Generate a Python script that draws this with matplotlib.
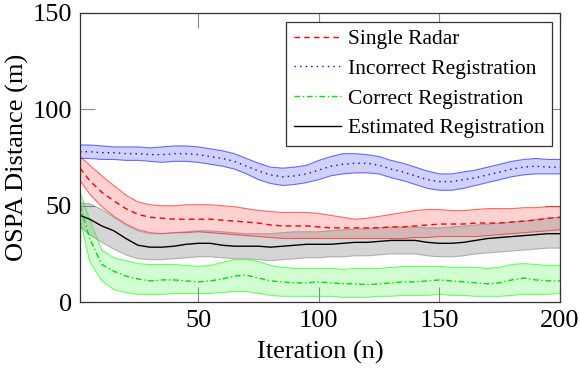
import numpy as np
import matplotlib
matplotlib.use("Agg")
import matplotlib.pyplot as plt

# -------------------------
# Datos
# -------------------------
iters = [1, 5, 10, 15, 20, 25, 30, 35, 40, 45, 50, 55, 60, 65, 70, 75, 80, 85, 90, 95, 100,
         105, 110, 115, 120, 125, 130, 135, 140, 145, 150, 155, 160, 165, 170, 175, 180,
         185, 190, 195, 200]

single_mean = [69.5, 63, 57, 52.5, 48.5, 45.5, 44, 43.5, 43, 43, 43, 43, 42.5, 42, 41.5, 41, 40,
               39.5, 39.5, 39.5, 39, 38.5, 38.5, 38.5, 38.5, 38.5, 39, 39, 39.5, 40, 40.5, 40.5,
               40.5, 41, 41, 41, 41.5, 42, 42.5, 43.5, 44]
single_up = [75.5, 71, 65.5, 60.5, 55.5, 52, 50.5, 50, 50, 50.5, 50.5, 50.5, 50, 49.5, 48.5, 47.5,
             47, 46.5, 46.5, 46.5, 46, 45, 44, 43, 43.5, 44.5, 45.5, 46.5, 47.5, 48, 48, 47.5,
             47.5, 48, 48.5, 48.5, 48.5, 49, 49, 49.5, 49.5]
single_lo = [63, 56, 49.5, 44.5, 40.5, 37.5, 36, 35.5, 36, 36, 36.5, 36, 35.5, 35, 34.5, 34, 33.5,
             33, 33, 33, 33, 33, 33, 33, 33, 33, 33, 33, 33.5, 33.5, 34, 34, 34, 34, 34.5, 35,
             35.5, 36, 36.5, 37, 37.5]

incorrect_mean = [78, 78, 77.5, 77.5, 77, 77, 76.5, 76.5, 77, 77, 76.5, 75.5, 74.5, 73, 70.5, 68,
                  66, 65, 65.5, 66.5, 68.5, 70.5, 71.5, 72, 72, 71, 69, 67.5, 65.5, 63.5, 62.5,
                  62.5, 63.5, 64.5, 66, 67.5, 69, 70, 70.5, 70, 70]
incorrect_up = [81.5, 81.5, 81, 80.5, 80.5, 80.5, 80, 80.5, 81, 81, 80.5, 79.5, 78.5, 77, 74.5, 72,
                70, 69.5, 70, 71, 73.5, 75.5, 77, 77, 76.5, 75.5, 73.5, 72, 70, 68, 66.5, 66.5,
                67.5, 68.5, 70, 71.5, 73, 74, 74.5, 74, 74]
incorrect_lo = [74.5, 74.5, 74, 74, 73.5, 73.5, 73, 72.5, 73, 73, 72.5, 71.5, 70.5, 69, 66.5, 63.5,
                61.5, 60.5, 61, 62, 63.5, 65.5, 66.5, 67, 67, 66.5, 64.5, 63, 61, 59, 58, 58, 59,
                60.5, 62, 63.5, 65, 66, 66.5, 66.5, 66.5]

correct_mean = [50, 33, 19.5, 16, 13.5, 12, 11, 11.5, 11.5, 11, 10.5, 11, 12, 13.5, 14, 12.5, 11,
                10.5, 10, 10, 10.5, 10, 9.5, 9.5, 9, 9.5, 10, 10.5, 10.5, 11, 11.5, 11, 10.5, 10,
                9.5, 10, 11.5, 12.5, 11.5, 11, 11]
correct_up = [57, 43, 27, 23, 21.5, 20, 19.5, 19.5, 19.5, 19, 18.5, 19, 20.5, 22, 22, 21, 19, 18,
              17.5, 17.5, 17.5, 17.5, 17, 17.5, 17.5, 17.5, 18, 18.5, 18.5, 18.5, 18.5, 18, 18,
              18, 17.5, 18, 19.5, 20, 19.5, 19, 19]
correct_lo = [43, 21, 11, 6.5, 5, 4, 4, 4, 4.5, 4.5, 4.5, 4.5, 5, 5.5, 5.5, 4.5, 3.5, 3, 3, 3, 3,
              3, 2.5, 2.5, 2.5, 3, 3, 3.5, 3.5, 3.5, 4, 3.5, 3.5, 3, 3, 3, 3.5, 4, 4, 4, 4.5]

estimated_mean = [45, 43, 39.5, 37, 33, 29.5, 28.5, 28.5, 29, 30, 30.5, 30.5, 29.5, 29, 29, 29,
                  28.5, 29, 29.5, 30, 30, 30, 30.5, 31, 31, 31.5, 32, 32, 32, 31, 30.5, 30.5, 31,
                  32, 33, 33.5, 34, 34.5, 35, 35.5, 35.5]
estimated_up = [51.5, 51, 48, 44, 40, 37, 35.5, 35.5, 36, 36.5, 37, 37, 36.5, 36, 35.5, 35.5, 35.5,
                36, 36.5, 36.5, 36.5, 37, 37.5, 38, 38, 38.5, 39, 39, 39, 38.5, 38.5, 39, 39.5, 40,
                40.5, 41, 41.5, 42, 43, 43.5, 44]
estimated_lo = [39, 35, 31, 27.5, 24.5, 22.5, 22, 22, 22.5, 23, 23.5, 23.5, 23, 22.5, 22.5, 22,
                21.5, 22, 22.5, 23, 23, 23.5, 23.5, 24, 24, 24.5, 25, 25, 25, 24, 23.5, 23.5, 24,
                25, 25.5, 26, 26.5, 27, 27.5, 28, 28]

xticks = [50, 100, 150, 200]
yticks = [0, 50, 100, 150]

# -------------------------
# Graficar
# -------------------------
plt.rcParams['font.family'] = ['Liberation Serif', 'DejaVu Serif']
plt.rcParams['mathtext.fontset'] = 'stix'

fig = plt.figure(figsize=(5.8, 3.68), dpi=100)
ax = fig.add_axes([0.138, 0.179, 0.8275, 0.786])

series = [
    ('Single Radar', single_mean, single_up, single_lo, 'red', 'red', 0.18, (0, (4, 3))),
    ('Incorrect Registration', incorrect_mean, incorrect_up, incorrect_lo, 'blue', 'blue', 0.18, (0, (1, 3))),
    ('Correct Registration', correct_mean, correct_up, correct_lo, '#00e000', '#00ff00', 0.18, (0, (4, 2, 1, 2))),
    ('Estimated Registration', estimated_mean, estimated_up, estimated_lo, 'black', 'gray', 0.33, '-'),
]

for label, m, up, lo, lc, fc, a, ls in series:
    ax.fill_between(iters, lo, up, facecolor=fc, alpha=a, linewidth=0)
    ax.plot(iters, up, color=fc, alpha=0.55, lw=0.8)
    ax.plot(iters, lo, color=fc, alpha=0.55, lw=0.8)

for label, m, up, lo, lc, fc, a, ls in series:
    ax.plot(iters, m, color=lc, linestyle=ls, lw=1.0, label=label)

ax.set_xlim(1, 200)
ax.set_ylim(0, 150)
ax.set_xticks(xticks)
ax.set_yticks(yticks)
ax.tick_params(direction='in', length=11, width=0.8, color='#888888',
               top=True, right=True, labelsize=19, pad=6)
for s in ax.spines.values():
    s.set_color('#333333')
    s.set_linewidth(0.9)

ax.set_xlabel("Iteration (n)", fontsize=19, labelpad=6)
ax.set_ylabel("OSPA Distance (m)", fontsize=19, labelpad=2)

leg = ax.legend(loc='upper right', fontsize=15.5, frameon=True, fancybox=False,
                edgecolor='#333333', framealpha=1, handlelength=2.2,
                labelspacing=0.44, borderpad=0.35, handletextpad=0.3,
                borderaxespad=0, bbox_to_anchor=(0.983, 0.969))
leg.get_frame().set_linewidth(0.9)

fig.savefig("out.png", dpi=100)
